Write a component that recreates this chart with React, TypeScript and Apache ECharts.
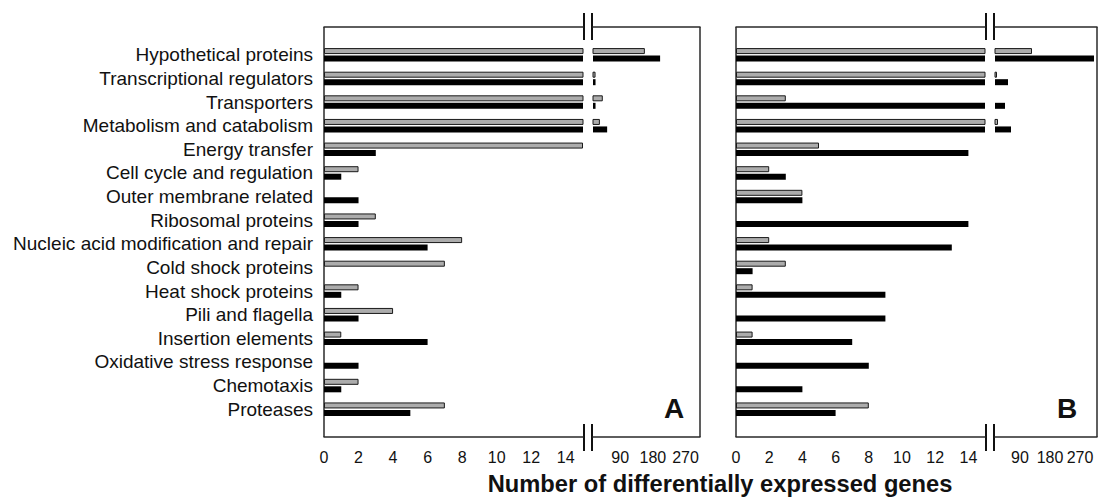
import React, { useEffect, useRef } from "react";
import * as echarts from "echarts";

const categories = [
  "Hypothetical proteins",
  "Transcriptional regulators",
  "Transporters",
  "Metabolism and catabolism",
  "Energy transfer",
  "Cell cycle and regulation",
  "Outer membrane related",
  "Ribosomal proteins",
  "Nucleic acid modification and repair",
  "Cold shock proteins",
  "Heat shock proteins",
  "Pili and flagella",
  "Insertion elements",
  "Oxidative stress response",
  "Chemotaxis",
  "Proteases",
];

const panelAGray = [158, 22, 42, 34, 15, 2, 0, 3, 8, 7, 2, 4, 1, 0, 2, 7];
const panelABlack = [200, 22, 22, 54, 3, 1, 2, 2, 6, 0, 1, 2, 6, 2, 1, 5];
const panelBGray = [126, 21, 3, 24, 5, 2, 4, 0, 2, 3, 1, 0, 1, 0, 0, 8];
const panelBBlack = [312, 54, 45, 63, 14, 3, 4, 14, 13, 1, 9, 9, 7, 8, 4, 6];

const lowTicks = [0, 2, 4, 6, 8, 10, 12, 14];
const highTicks = [90, 180, 270];
const lowMin = 0;
const lowMax = 15;
const highMin = 15;

const FONT = "'Liberation Sans', Arial, Helvetica, sans-serif";
const INK = "#111";
const LINE = "#2a2a2a";
const GRAY = "#acacac";

const GRID_TOP = 43;
const GRID_H = 378;
const FRAME_TOP = 27;
const FRAME_BOTTOM = 437;

const panels = [
  { id: "A", lowLeft: 324, lowW: 259, highLeft: 593, highW: 107, highMax: 310, gray: panelAGray, black: panelABlack, letterX: 674, showCats: true },
  { id: "B", lowLeft: 736, lowW: 249, highLeft: 995, highW: 102, highMax: 321, gray: panelBGray, black: panelBBlack, letterX: 1067, showCats: false },
];

function buildOption() {
  const grid: any[] = [];
  const xAxis: any[] = [];
  const yAxis: any[] = [];
  const series: any[] = [];
  const graphic: any[] = [];

  const toData = (arr: number[]) => arr.map((v) => (v === 0 ? null : v));

  panels.forEach((p) => {
    const parts = [
      { left: p.lowLeft, width: p.lowW, min: lowMin, max: lowMax, ticks: lowTicks },
      { left: p.highLeft, width: p.highW, min: highMin, max: p.highMax, ticks: highTicks },
    ];
    parts.forEach((part, k) => {
      const gi = grid.length;
      grid.push({
        left: part.left,
        top: GRID_TOP,
        width: part.width,
        height: GRID_H,
        containLabel: false,
        outerBoundsMode: "none",
        show: false,
      });
      const xb = xAxis.length;
      xAxis.push({
        type: "value",
        gridIndex: gi,
        position: "bottom",
        offset: FRAME_BOTTOM - (GRID_TOP + GRID_H),
        min: part.min,
        max: part.max,
        axisLine: { show: true, onZero: false, lineStyle: { color: LINE, width: 1.5 } },
        axisTick: { show: false },
        splitLine: { show: false },
        axisLabel: {
          show: true,
          customValues: part.ticks,
          margin: 12,
          color: INK,
          fontSize: 16,
          fontFamily: FONT,
          showMinLabel: true,
          showMaxLabel: true,
        },
      });
      xAxis.push({
        type: "value",
        gridIndex: gi,
        position: "top",
        offset: GRID_TOP - FRAME_TOP,
        min: part.min,
        max: part.max,
        axisLine: { show: true, onZero: false, lineStyle: { color: LINE, width: 1.5 } },
        axisTick: { show: false },
        splitLine: { show: false },
        axisLabel: { show: false },
      });
      yAxis.push({
        type: "category",
        gridIndex: gi,
        data: categories,
        inverse: true,
        axisLine: { show: false },
        axisTick: { show: false },
        splitLine: { show: false },
        axisLabel: {
          show: p.showCats && k === 0,
          interval: 0,
          margin: 11,
          color: INK,
          fontSize: 19,
          fontFamily: FONT,
        },
      });
      series.push({
        type: "bar",
        name: `Panel ${p.id} gray`,
        xAxisIndex: xb,
        yAxisIndex: gi,
        data: toData(p.gray),
        barWidth: 6,
        barGap: "25%",
        clip: true,
        itemStyle: { color: GRAY, borderColor: "#1a1a1a", borderWidth: 1 },
        emphasis: { disabled: true },
      });
      series.push({
        type: "bar",
        name: `Panel ${p.id} black`,
        xAxisIndex: xb,
        yAxisIndex: gi,
        data: toData(p.black),
        barWidth: 6,
        barGap: "25%",
        clip: true,
        itemStyle: { color: "#000" },
        emphasis: { disabled: true },
      });
    });

    const rightX = p.highLeft + p.highW;
    const lineStyle = { stroke: LINE, lineWidth: 1.5 };
    graphic.push({ type: "line", shape: { x1: p.lowLeft, y1: FRAME_TOP, x2: p.lowLeft, y2: FRAME_BOTTOM }, style: lineStyle, silent: true });
    graphic.push({ type: "line", shape: { x1: rightX, y1: FRAME_TOP, x2: rightX, y2: FRAME_BOTTOM }, style: lineStyle, silent: true });
    const b1 = p.lowLeft + p.lowW + 1;
    const b2 = p.highLeft - 1;
    const breakStyle = { stroke: "#111", lineWidth: 2 };
    [b1, b2].forEach((bx) => {
      graphic.push({ type: "line", shape: { x1: bx, y1: FRAME_TOP - 14, x2: bx, y2: FRAME_TOP + 13 }, style: breakStyle, silent: true });
      graphic.push({ type: "line", shape: { x1: bx, y1: FRAME_BOTTOM - 13, x2: bx, y2: FRAME_BOTTOM + 14 }, style: breakStyle, silent: true });
    });
    graphic.push({
      type: "text",
      x: p.letterX,
      y: 408,
      style: { text: p.id, fontSize: 28, fontWeight: "bold", fontFamily: FONT, fill: INK, textAlign: "center", textVerticalAlign: "middle" },
      silent: true,
    });
  });

  graphic.push({
    type: "text",
    x: 720,
    y: 484,
    style: {
      text: "Number of differentially expressed genes",
      fontSize: 23.7,
      fontWeight: "bold",
      fontFamily: FONT,
      fill: INK,
      textAlign: "center",
      textVerticalAlign: "middle",
    },
    silent: true,
  });

  return {
    animation: false,
    backgroundColor: "#ffffff",
    textStyle: { fontFamily: FONT },
    tooltip: { show: false },
    grid,
    xAxis,
    yAxis,
    series,
    graphic,
  };
}

export default function App() {
  const ref = useRef<HTMLDivElement>(null);
  useEffect(() => {
    document.body.style.margin = "0";
    if (!ref.current) return;
    const chart = echarts.init(ref.current, undefined, { renderer: "svg" });
    chart.setOption(buildOption() as any);
    return () => {
      chart.dispose();
    };
  }, []);
  return <div ref={ref} style={{ width: 1100, height: 497 }} />;
}
